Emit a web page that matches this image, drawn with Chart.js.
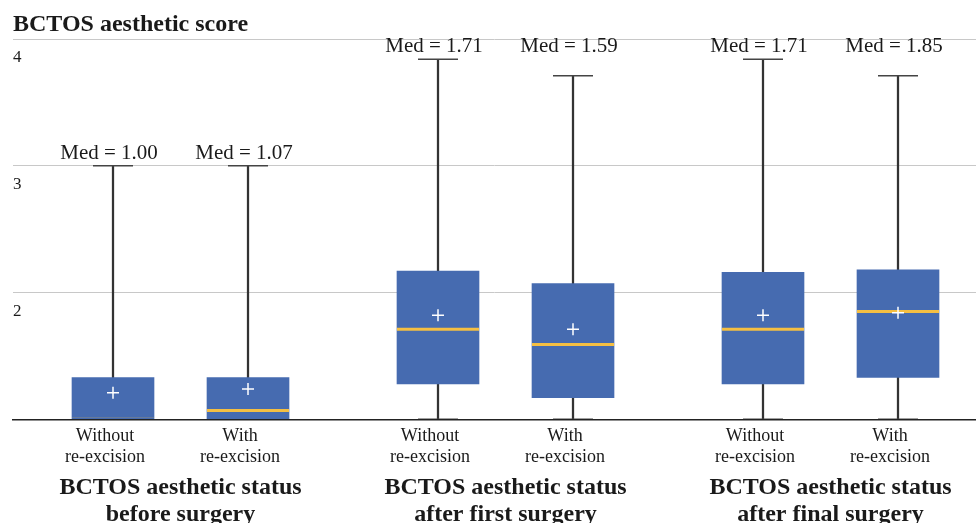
<!DOCTYPE html>
<html>
<head>
<meta charset="utf-8">
<script src="https://cdn.jsdelivr.net/npm/chart.js@4"></script>
<style>
  html, body { margin: 0; padding: 0; background: #fff; overflow: hidden; }
  canvas { display: block; }
</style>
</head>
<body>
<canvas id="myChart" width="976" height="529"></canvas>
<script>
// group titles under the axis
const groupLabels = [
    ['BCTOS aesthetic status', 'before surgery'],
    ['BCTOS aesthetic status', 'after first surgery'],
    ['BCTOS aesthetic status', 'after final surgery']
];
// one label per box
const boxLabels = [
    ['Without', 're-excision'], ['With', 're-excision'],
    ['Without', 're-excision'], ['With', 're-excision'],
    ['Without', 're-excision'], ['With', 're-excision']
];
// box plot values
const whiskerLow  = [1.00, 1.00, 1.00, 1.00, 1.00, 1.00];
const q1          = [1.00, 1.00, 1.28, 1.17, 1.28, 1.33];
const median      = [1.00, 1.07, 1.71, 1.59, 1.71, 1.85];
const q3          = [1.33, 1.33, 2.17, 2.07, 2.16, 2.18];
const whiskerHigh = [3.00, 3.00, 3.84, 3.71, 3.84, 3.71];
const mean        = [1.21, 1.24, 1.82, 1.71, 1.82, 1.84];
const yTicks = [1, 2, 3, 4];

const FONT = '"Liberation Serif", "Times New Roman", serif';
const TEXT = '#1a1a1a';

// box i sits left or right of its group centre
const boxPos = (i) => Math.floor(i / 2) + 1 + (i % 2 === 0 ? -0.2077 : 0.2077);
const groupPos = groupLabels.map((g, i) => i + 1);

const pts = (arr) => arr.map((v, i) => ({ x: boxPos(i), y: v }));
const ranges = (lo, hi) => lo.map((v, i) => ({ x: boxPos(i), y: [v, hi[i]] }));

// no extra label padding, the plot runs edge to edge
const noPadding = (scale) => {
    scale.paddingLeft = 0;
    scale.paddingRight = 0;
    scale.paddingTop = 0;
    scale.paddingBottom = 0;
};

const medLabelPlugin = {
    id: 'medLabels',
    afterDatasetsDraw(chart) {
        const { ctx, scales: { x, y } } = chart;
        ctx.save();
        ctx.font = '21px ' + FONT;
        ctx.fillStyle = TEXT;
        ctx.textAlign = 'center';
        ctx.textBaseline = 'alphabetic';
        median.forEach((m, i) => {
            const g = Math.floor(i / 2);
            const top = Math.max(whiskerHigh[2 * g], whiskerHigh[2 * g + 1]);
            ctx.fillText('Med = ' + m.toFixed(2), x.getPixelForValue(boxPos(i)) - 4, y.getPixelForValue(top) - 7);
        });
        ctx.restore();
    }
};

window.onload = () => {
    const data = {
        datasets: [
            {
                type: 'scatter', label: 'mean', data: pts(mean), order: 0,
                pointStyle: 'cross', radius: 6, borderColor: '#ffffff', borderWidth: 1.5
            },
            {
                // a median sitting on the axis is hidden, as in the original
                type: 'scatter', label: 'median', data: pts(median), order: 1,
                pointStyle: 'line', radius: 41, borderColor: '#f5bf42', borderWidth: 3,
                clip: { left: false, top: false, right: false, bottom: -1.6 }
            },
            {
                type: 'bar', label: 'box', data: ranges(q1, q3), order: 2, grouped: false,
                barThickness: 82, backgroundColor: '#466bb0', borderWidth: 0
            },
            {
                type: 'scatter', label: 'caps', data: pts(whiskerHigh).concat(pts(whiskerLow)), order: 3,
                pointStyle: 'line', radius: 20, borderColor: '#444444', borderWidth: 1.5
            },
            {
                type: 'bar', label: 'whisker', data: ranges(whiskerLow, whiskerHigh), order: 4, grouped: false,
                barThickness: 1.6, backgroundColor: '#333333', borderWidth: 0
            }
        ]
    };

    const config = {
        type: 'bar',
        data: data,
        options: {
            responsive: false,
            animation: false,
            events: [],
            layout: { autoPadding: false, padding: { left: 13, right: 0, top: 0, bottom: 0 } },
            plugins: {
                legend: { display: false },
                tooltip: { enabled: false },
                title: {
                    display: true,
                    text: 'BCTOS aesthetic score',
                    align: 'start',
                    color: TEXT,
                    font: { family: FONT, size: 24, weight: 'bold' },
                    padding: { top: 10, bottom: 0.2 }
                }
            },
            scales: {
                x: {
                    type: 'linear',
                    position: 'bottom',
                    min: 0.4846,
                    max: 3.4477,
                    offset: false,
                    weight: 0,
                    grid: { display: false, drawTicks: false },
                    border: { display: true, color: '#222222', width: 1.5, z: 1 },
                    afterBuildTicks: (scale) => {
                        scale.ticks = boxLabels.map((l, i) => ({ value: boxPos(i) }));
                    },
                    afterFit: noPadding,
                    ticks: {
                        autoSkip: false,
                        maxRotation: 0,
                        padding: 7,
                        labelOffset: -8,
                        color: TEXT,
                        font: { family: FONT, size: 18, lineHeight: 1.13 },
                        callback: (value, index) => boxLabels[index]
                    }
                },
                x2: {
                    type: 'linear',
                    position: 'bottom',
                    min: 0.4846,
                    max: 3.4477,
                    offset: false,
                    weight: 1,
                    grid: { display: false, drawTicks: false },
                    border: { display: false },
                    afterBuildTicks: (scale) => {
                        scale.ticks = groupPos.map(v => ({ value: v }));
                    },
                    afterFit: noPadding,
                    ticks: {
                        autoSkip: false,
                        maxRotation: 0,
                        padding: 0.5,
                        color: TEXT,
                        font: { family: FONT, size: 24, weight: 'bold', lineHeight: 1.125 },
                        callback: (value, index) => groupLabels[index]
                    }
                },
                y: {
                    type: 'linear',
                    min: yTicks[0],
                    max: yTicks[yTicks.length - 1],
                    border: { display: false },
                    afterBuildTicks: (scale) => {
                        scale.ticks = yTicks.map(v => ({ value: v }));
                    },
                    afterFit: noPadding,
                    grid: {
                        drawTicks: false,
                        color: (c) => c.tick && c.tick.value === yTicks[0] ? 'rgba(0,0,0,0)' : '#c8c8c8',
                        lineWidth: 1
                    },
                    ticks: {
                        mirror: true,
                        padding: 0,
                        labelOffset: 19,
                        color: TEXT,
                        font: { family: FONT, size: 17 },
                        callback: (value) => value === yTicks[0] ? '' : String(value)
                    }
                }
            }
        },
        plugins: [medLabelPlugin]
    };

    new Chart(document.getElementById('myChart'), config);
};
</script>
</body>
</html>
